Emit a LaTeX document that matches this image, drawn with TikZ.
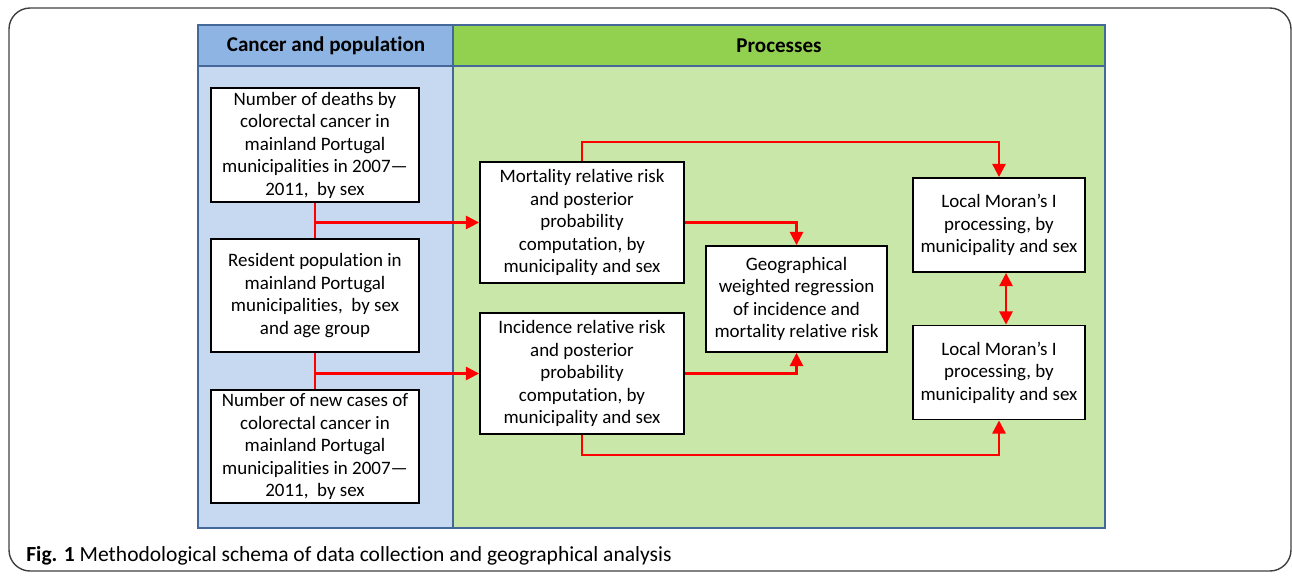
\documentclass[tikz,border=0pt]{standalone}
\usepackage{fontspec}
\setmainfont{Carlito}[RawFeature={-liga;-clig;-calt;-dlig}]
\usetikzlibrary{arrows.meta,positioning}

\definecolor{headblue}{HTML}{8EB4E3}
\definecolor{bodyblue}{HTML}{C6D9F1}
\definecolor{headgreen}{HTML}{92D050}
\definecolor{bodygreen}{HTML}{C9E7A8}
\definecolor{tableline}{HTML}{44689A}

\begin{document}
\begin{tikzpicture}[x=0.02cm,y=-0.02cm,
  box/.style={draw=black,line width=1.1pt,fill=white,align=center,inner sep=0pt,
    font=\fontsize{10.8}{12.8}\selectfont},
  head/.style={font=\fontsize{12}{14}\selectfont\bfseries},
  link/.style={red,line width=1.3pt},
  tip/.style={-{Triangle[length=7.5pt,width=7.5pt]}}]
\useasboundingbox (0,0) rectangle (1292,576);
\draw[black!75,line width=0.8pt,rounded corners=12pt] (9,8) rectangle (1291,571);
\fill[headblue] (198,25) rectangle (453,66);
\fill[bodyblue] (198,66) rectangle (453,528);
\fill[headgreen] (453,25) rectangle (1105,66);
\fill[bodygreen] (453,66) rectangle (1105,528);
\draw[tableline,line width=1.1pt] (198,25) rectangle (1105,528);
\draw[tableline,line width=1.1pt] (198,66)--(1105,66);
\draw[tableline,line width=1.1pt] (453,25)--(453,528);
\node[head] (cancerhead) at (326,46) {Cancer and population};
\node[head] (processhead) at (779,46) {Processes};

\node[box,minimum width=4.16cm,minimum height=2.28cm] (deaths) at (315,145)
  {Number of deaths by\\colorectal cancer in\\mainland Portugal\\municipalities in 2007---\\2011,\ \ by sex};
\node[box,minimum width=4.16cm,minimum height=2.26cm] (population) at (315,295.5)
  {Resident population in\\mainland Portugal\\municipalities,\ \ by sex\\and age group};
\node[box,minimum width=4.16cm,minimum height=2.26cm] (cases) at (315,446.5)
  {Number of new cases of\\colorectal cancer in\\mainland Portugal\\municipalities in 2007---\\2011,\ \ by sex};
\node[box,minimum width=4.08cm,minimum height=2.42cm] (mortality) at (582,222.5)
  {Mortality relative risk\\and posterior\\probability\\computation, by\\municipality and sex};
\node[box,minimum width=4.08cm,minimum height=2.42cm] (incidence) at (582,373.5)
  {Incidence relative risk\\and posterior\\probability\\computation, by\\municipality and sex};
\node[box,minimum width=3.62cm,minimum height=2.12cm] (regression) at (796.5,299)
  {Geographical\\weighted regression\\of incidence and\\mortality relative risk};
\node[box,minimum width=3.44cm,minimum height=1.88cm] (moranA) at (999,225)
  {Local Moran’s I\\processing, by\\municipality and sex};
\node[box,minimum width=3.44cm,minimum height=1.88cm] (moranB) at (999,372.5)
  {Local Moran’s I\\processing, by\\municipality and sex};

\draw[link] (deaths.south)--(population.north);
\draw[link,tip] (deaths.south |- mortality.west)--(mortality.west);
\draw[link] (population.south)--(cases.north);
\draw[link,tip] (population.south |- incidence.west)--(incidence.west);
\draw[link,tip] (mortality.north)--++(0,-19) -| (moranA.north);
\draw[link,tip] (mortality.east) -| (regression.north);
\draw[link,tip] (incidence.east) -| (regression.south);
\draw[link,tip] (incidence.south)--++(0,20) -| (moranB.south);
\draw[link,{Triangle[length=7.5pt,width=7.5pt]}-{Triangle[length=7.5pt,width=7.5pt]}] ([xshift=4]moranA.south)--([xshift=4]moranB.north);

\node[anchor=west,inner sep=0pt,font=\fontsize{12.25}{15}\selectfont] (caption) at (26,556)
  {\textbf{Fig. 1} Methodological schema of data collection and geographical analysis};
\end{tikzpicture}
\end{document}
